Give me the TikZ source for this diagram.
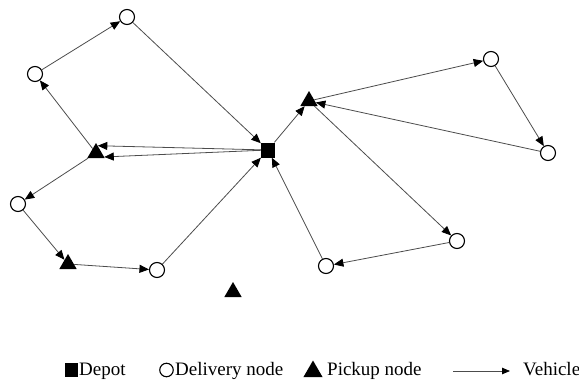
\documentclass[tikz,border=0pt]{standalone}
\usepackage{fontspec}
\setmainfont{Liberation Serif}
\usetikzlibrary{shapes.geometric,arrows.meta,calc}
\begin{document}
\begin{tikzpicture}[x=1pt,y=-1pt,
  delivery/.style={circle,draw=black,line width=1.1pt,fill=white,minimum size=15pt,inner sep=0pt},
  pickup/.style={regular polygon,regular polygon sides=3,fill=black,minimum size=20pt,inner sep=0pt},
  depot/.style={rectangle,fill=black,minimum width=14pt,minimum height=15pt,inner sep=0pt},
  route/.style={draw=black!70,line width=0.8pt,-{Triangle[length=9.5pt,width=8pt,black]}},
  legtext/.style={anchor=base west,inner sep=0pt,font=\fontsize{19}{21}\selectfont}]
\useasboundingbox (0,0) rectangle (579,383);
% nodes
\node[depot] (D) at (268,150) {};
\node[delivery] (C1) at (127,17) {};
\node[delivery] (C2) at (35,74) {};
\node[pickup] (T1) at (96,153) {};
\node[delivery] (C3) at (18,204) {};
\node[pickup] (T2) at (68,264) {};
\node[delivery] (C4) at (157,270) {};
\node[pickup] (T3) at (233,292) {};
\node[pickup] (T4) at (309,101) {};
\node[delivery] (C5) at (491,59) {};
\node[delivery] (C6) at (548,153) {};
\node[delivery] (C7) at (457,241) {};
\node[delivery] (C8) at (326,266) {};
% routes
\draw[route] (C2) -- (C1);
\draw[route] (C1) -- (D);
\draw[route] (T1) -- (C2);
\draw[route] (D) -- ($(T1.corner 1)!0.2!(T1.corner 3)$);
\draw[route] (D) -- ($(T1.corner 1)!0.92!(T1.corner 3)$);
\draw[route] (T1) -- (C3);
\draw[route] (C3) -- (T2);
\draw[route] (T2) -- (C4);
\draw[route] (C4) -- (D);
\draw[route] (D) -- (T4);
\draw[route] (T4) -- (C5);
\draw[route] (C5) -- (C6);
\draw[route] (C6) -- (T4);
\draw[route] (T4) -- (C7);
\draw[route] (C7) -- (C8);
\draw[route] (C8) -- (D);
% legend
\node[depot,minimum width=13pt,minimum height=14pt] (LD) at (71.5,370) {};
\node[legtext] (LDt) at (79,375) {Depot};
\node[delivery,minimum size=13.5pt] (LC) at (166.5,370) {};
\node[legtext] (LCt) at (175,375) {Delivery node};
\node[pickup,minimum size=22pt] (LT) at (313,371.5) {};
\node[legtext] (LTt) at (327,375) {Pickup node};
\coordinate (LA1) at (453,371);
\coordinate (LA2) at (510,371);
\draw[route,-{Triangle[length=8pt,width=6.5pt,black]}] (LA1) -- (LA2);
\node[legtext] (LAt) at (523,375) {Vehicle};
\end{tikzpicture}
\end{document}
